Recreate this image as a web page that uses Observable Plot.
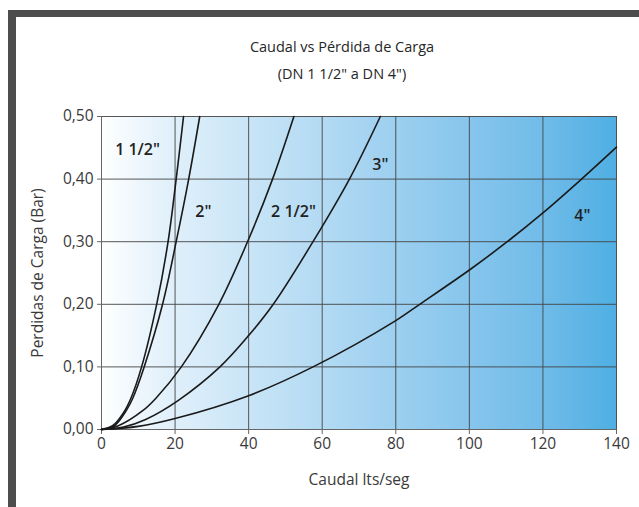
<!DOCTYPE html>
<html><head><meta charset="utf-8">
<script src="https://cdn.jsdelivr.net/npm/d3@7"></script>
<script src="https://cdn.jsdelivr.net/npm/@observablehq/plot@0.6"></script>
<style>
html,body{margin:0;padding:0;background:#fff;}
#wrap{position:relative;width:639px;height:507px;overflow:hidden;font-family:"Open Sans",Roboto,sans-serif;}
#frame{position:absolute;left:8px;top:10px;width:631px;height:497px;border-top:7px solid #4d4d4d;border-left:8px solid #4d4d4d;box-sizing:border-box;}
#title{position:absolute;left:45px;width:594px;top:33px;text-align:center;color:#262626;font-size:14.5px;font-weight:500;line-height:27px;}
#chart{position:absolute;left:0;top:100px;}
</style></head>
<body><div id="wrap"><div id="frame"></div>
<div id="title">Caudal vs Pérdida de Carga<br>(DN 1 1/2" a DN 4")</div>
<div id="chart"></div></div>
<script>
const seriesNames = ['1 1/2"', '2"', '2 1/2"', '3"', '4"'];
const x15 = [0, 3, 6, 8, 10.9, 15, 18.1, 20.3, 22.3];
const y15 = [0, 0.006, 0.027, 0.05, 0.1, 0.2, 0.3, 0.4, 0.5];
const x2 = [0, 3.5, 7, 8.5, 11.6, 16.6, 20.3, 23.7, 26.7];
const y2 = [0, 0.006, 0.033, 0.05, 0.1, 0.2, 0.3, 0.4, 0.5];
const x25 = [0, 4.6, 11.2, 14.8, 21.7, 31.9, 39.7, 46.5, 52.3];
const y25 = [0, 0.006, 0.03, 0.05, 0.1, 0.2, 0.3, 0.4, 0.5];
const x3 = [0, 6, 12, 21, 32.2, 40, 46.7, 57.5, 67.4, 75.8];
const y3 = [0, 0.004, 0.016, 0.047, 0.1, 0.15, 0.2, 0.3, 0.4, 0.5];
const x4 = [0, 10, 20, 40, 57.5, 80, 86.5, 100.3, 110.3, 120, 130.5, 140];
const y4 = [0, 0.005, 0.0175, 0.054, 0.1, 0.174, 0.2, 0.256, 0.3, 0.346, 0.4, 0.451];
const labelX = [9.8, 27.7, 52.2, 75.8, 130.7];
const labelY = [0.446, 0.347, 0.347, 0.422, 0.342];
const xTicks = [0, 20, 40, 60, 80, 100, 120, 140];
const yTicks = [0, 0.1, 0.2, 0.3, 0.4, 0.5];

const xs = [x15, x2, x25, x3, x4];
const ys = [y15, y2, y25, y3, y4];
const rows = [];
seriesNames.forEach((s, i) => xs[i].forEach((x, j) => rows.push({s, x, y: ys[i][j]})));
const labels = seriesNames.map((s, i) => ({s, x: labelX[i], y: labelY[i]}));

const chart = Plot.plot({
  width: 639, height: 407,
  marginTop: 16, marginBottom: 78, marginLeft: 101, marginRight: 23,
  style: {fontFamily: '"Open Sans", Roboto, sans-serif', fontSize: "14px", color: "#3a3a3a", background: "transparent"},
  x: {domain: [0, 140]},
  y: {domain: [0, 0.5]},
  marks: [
    Plot.frame({fill: "url(#bg)", stroke: null}),
    Plot.gridX(xTicks, {stroke: "#444", strokeOpacity: 0.9}),
    Plot.gridY(yTicks, {stroke: "#444", strokeOpacity: 0.9}),
    Plot.ruleX([0], {stroke: "#666"}),
    Plot.ruleY([0], {stroke: "#666"}),
    Plot.axisX(xTicks, {tickSize: 5, tickPadding: 3, stroke: "#666", fontSize: 15.5, fontWeight: 500, label: "Caudal lts/seg", labelAnchor: "center", labelArrow: "none", labelOffset: 55, fill: "#3a3a3a"}),
    Plot.axisY(yTicks, {tickSize: 4, tickPadding: 4, stroke: "#666", fontSize: 15.5, fontWeight: 500, tickFormat: d => d.toFixed(2).replace(".", ","), label: "Perdidas de Carga (Bar)", labelAnchor: "center", labelArrow: "none", labelOffset: 70, fill: "#3a3a3a"}),
    Plot.line(rows, {x: "x", y: "y", z: "s", stroke: "#1a1a1a", strokeWidth: 1.6, curve: "catmull-rom"}),
    Plot.text(labels, {x: "x", y: "y", text: "s", fontSize: 16, fontWeight: 600, fill: "#222"})
  ]
});
const svg = d3.select(chart);
const defs = svg.insert("defs", ":first-child");
const g = defs.append("linearGradient").attr("id", "bg").attr("x1", "0").attr("x2", "1").attr("y1", "0").attr("y2", "0");
[[0, "#ffffff"], [0.12, "#e3f1fb"], [0.35, "#bfe0f5"], [0.6, "#98cdef"], [0.85, "#72bce9"], [1, "#4fafe3"]]
  .forEach(([o, c]) => g.append("stop").attr("offset", o).attr("stop-color", c));
document.getElementById("chart").appendChild(chart);
</script></body></html>
